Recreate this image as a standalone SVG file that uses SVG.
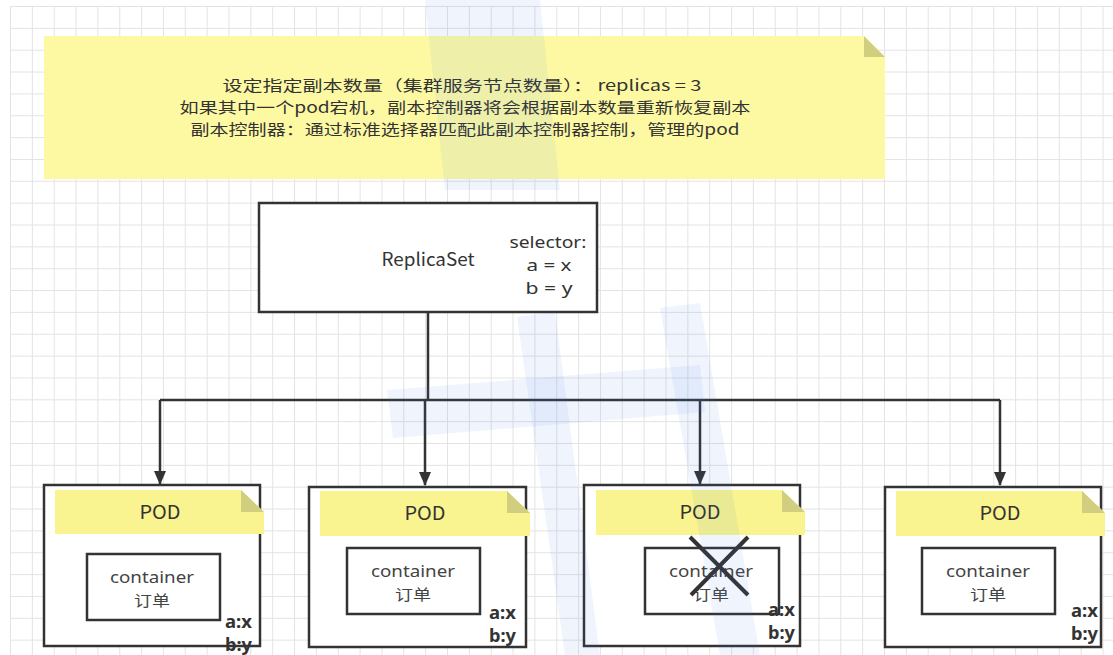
<svg xmlns="http://www.w3.org/2000/svg" width="1113" height="655" viewBox="0 0 1113 655">
  <defs>
    <pattern id="grid" patternUnits="userSpaceOnUse" x="10" y="6" width="21.85" height="21.85">
      <path d="M0 0.5H21.85M0.5 0V21.85" fill="none" stroke="#e3e3e3" stroke-width="1"/>
    </pattern>
    <marker id="arr" markerWidth="14" markerHeight="12" refX="13" refY="6" orient="auto" markerUnits="userSpaceOnUse" viewBox="0 0 14 12">
      <path d="M0 0L14 6L0 12Z" fill="#333"/>
    </marker>
    <style>
      .t{font-family:"Noto Sans CJK SC","Noto Sans",sans-serif;fill:#333;text-anchor:middle}
      .s{font-family:"Noto Sans","Noto Sans CJK SC",sans-serif;fill:#333;text-anchor:middle;font-size:16px}
      .c{font-family:"Noto Sans","Noto Sans CJK SC",sans-serif;fill:#444;text-anchor:middle;font-size:16px}
      .z{font-family:"Noto Sans CJK SC",sans-serif;fill:#444;text-anchor:middle;font-size:15px}
      .box{fill:#fff;stroke:#333;stroke-width:2.5}
      .band{fill:#f9f48f}
      .fold{fill:#d2ce80}
      .lbl{font-family:"Noto Sans","Noto Sans CJK SC",sans-serif;font-weight:bold;fill:#333;font-size:17px}
      .wm{fill:#3d7ee8;opacity:0.08}
    </style>
  </defs>
  <rect width="1113" height="655" fill="#fff"/>
  <rect x="10" y="6" width="1103" height="649" fill="url(#grid)"/>

  <g id="note">
    <polygon points="44,36 864,36 885,57 885,179 44,179" fill="#fdf9a3"/>
    <polygon points="864,36 885,57 864,57" class="fold"/>
    <text class="t" font-size="15" x="462" y="91" textLength="479" lengthAdjust="spacingAndGlyphs">设定指定副本数量（集群服务节点数量）： replicas = 3</text>
    <text class="t" font-size="15" x="465" y="113" textLength="571" lengthAdjust="spacingAndGlyphs">如果其中一个pod宕机，副本控制器将会根据副本数量重新恢复副本</text>
    <text class="t" font-size="15" x="465" y="135" textLength="549" lengthAdjust="spacingAndGlyphs">副本控制器：通过标准选择器匹配此副本控制器控制，管理的pod</text>
  </g>

  <g id="replicaset">
    <rect class="box" x="259" y="203" width="338" height="109"/>
    <text class="t" font-size="18" x="428" y="266" textLength="93" lengthAdjust="spacingAndGlyphs">ReplicaSet</text>
    <text class="s" x="548" y="248" textLength="77" lengthAdjust="spacingAndGlyphs">selector:</text>
    <text class="s" x="549" y="271" textLength="45" lengthAdjust="spacingAndGlyphs">a = x</text>
    <text class="s" x="549" y="294" textLength="47" lengthAdjust="spacingAndGlyphs">b = y</text>
  </g>

  <g id="connectors" fill="none" stroke="#333" stroke-width="2.5">
    <path d="M428 312V400"/>
    <path d="M160 400H1000"/>
    <path d="M160 400V484" marker-end="url(#arr)"/>
    <path d="M425 400V485" marker-end="url(#arr)"/>
    <path d="M700 400V484" marker-end="url(#arr)"/>
    <path d="M1000 400V485" marker-end="url(#arr)"/>
  </g>

  <g id="pod1">
    <rect class="box" x="44" y="485" width="216" height="161"/>
    <polygon class="band" points="55,490 241,490 264,512 264,534 55,534"/>
    <polygon class="fold" points="241,490 264,512 241,512"/>
    <text class="t" font-size="19" x="160" y="519" textLength="41" lengthAdjust="spacingAndGlyphs">POD</text>
    <rect class="box" x="87" y="554" width="133" height="66"/>
    <text class="c" x="152" y="583" textLength="84" lengthAdjust="spacingAndGlyphs">container</text>
    <text class="z" x="152" y="606" textLength="36" lengthAdjust="spacingAndGlyphs">订单</text>
    <text class="lbl" x="225" y="628" textLength="27" lengthAdjust="spacingAndGlyphs">a:x</text>
    <text class="lbl" x="225" y="651" textLength="27" lengthAdjust="spacingAndGlyphs">b:y</text>
  </g>

  <g id="pod2">
    <rect class="box" x="309" y="487" width="217" height="160"/>
    <polygon class="band" points="320,491 507,491 530,513 530,536 320,536"/>
    <polygon class="fold" points="507,491 530,513 507,513"/>
    <text class="t" font-size="19" x="425" y="520" textLength="41" lengthAdjust="spacingAndGlyphs">POD</text>
    <rect class="box" x="347" y="548" width="133" height="66"/>
    <text class="c" x="413" y="577" textLength="84" lengthAdjust="spacingAndGlyphs">container</text>
    <text class="z" x="413" y="600" textLength="36" lengthAdjust="spacingAndGlyphs">订单</text>
    <text class="lbl" x="489" y="619" textLength="27" lengthAdjust="spacingAndGlyphs">a:x</text>
    <text class="lbl" x="489" y="642" textLength="27" lengthAdjust="spacingAndGlyphs">b:y</text>
  </g>

  <g id="pod3">
    <rect class="box" x="584" y="485" width="216" height="161"/>
    <polygon class="band" points="596,490 782,490 805,512 805,535 596,535"/>
    <polygon class="fold" points="782,490 805,512 782,512"/>
    <text class="t" font-size="19" x="700" y="519" textLength="41" lengthAdjust="spacingAndGlyphs">POD</text>
    <rect class="box" x="645" y="548" width="134" height="66"/>
    <text class="c" x="711" y="577" textLength="84" lengthAdjust="spacingAndGlyphs">container</text>
    <text class="z" x="711" y="600" textLength="36" lengthAdjust="spacingAndGlyphs">订单</text>
    <text class="lbl" x="768" y="616" textLength="27" lengthAdjust="spacingAndGlyphs">a:x</text>
    <text class="lbl" x="768" y="639" textLength="27" lengthAdjust="spacingAndGlyphs">b:y</text>
    <path d="M690 537L748 595M748 537L691 595" stroke="#333" stroke-width="4" fill="none"/>
  </g>

  <g id="pod4">
    <rect class="box" x="885" y="487" width="216" height="160"/>
    <polygon class="band" points="896,491 1082,491 1105,513 1105,536 896,536"/>
    <polygon class="fold" points="1082,491 1105,513 1082,513"/>
    <text class="t" font-size="19" x="1000" y="520" textLength="41" lengthAdjust="spacingAndGlyphs">POD</text>
    <rect class="box" x="922" y="548" width="133" height="66"/>
    <text class="c" x="988" y="577" textLength="84" lengthAdjust="spacingAndGlyphs">container</text>
    <text class="z" x="988" y="600" textLength="36" lengthAdjust="spacingAndGlyphs">订单</text>
    <text class="lbl" x="1071" y="617" textLength="27" lengthAdjust="spacingAndGlyphs">a:x</text>
    <text class="lbl" x="1071" y="640" textLength="27" lengthAdjust="spacingAndGlyphs">b:y</text>
  </g>

  <g id="watermark">
    <polygon class="wm" points="425,0 540,0 560,190 445,190"/>
    <polygon class="wm" points="517,317 555,312 600,655 565,655"/>
    <polygon class="wm" points="660,308 700,303 760,655 720,655"/>
    <polygon class="wm" points="387,390 700,365 705,412 393,438"/>
  </g>
</svg>
